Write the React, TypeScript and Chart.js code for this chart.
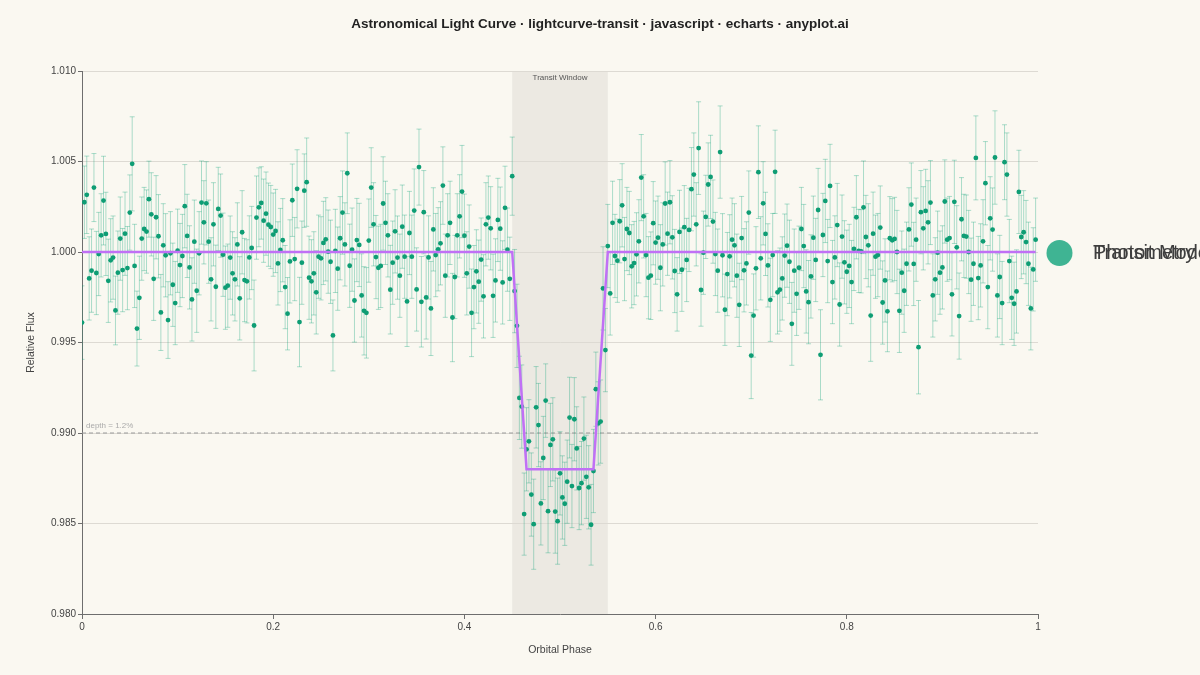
import React, { useEffect, useRef } from "react";
import { Chart, registerables, Plugin } from "chart.js";

Chart.register(...registerables);

const FONT = "'Liberation Sans', Arial, Helvetica, sans-serif";
const BG = "#FAF8F1";
const SHADE = "#ECE9E2";
const GRID = "#DDDAD3";
const AXIS = "#6E6E6E";
const TEXT = "#444444";
const GREEN = "#0E9D74";
const GREEN_ERR = "rgba(0,158,115,0.32)";
const PURPLE = "#C070F5";

const TITLE = "Astronomical Light Curve · lightcurve-transit · javascript · echarts · anyplot.ai";
const seriesNames = ["Photometry", "Transit Model"];
const xTitle = "Orbital Phase";
const yTitle = "Relative Flux";

// phase grid of the photometry points (0 … 0.9975)
const PHASE_STEP = 0.0025;

// relative flux, one per phase step
const flux: number[] = [
  0.9961, 1.00275, 1.00316, 0.99854, 0.99897, 1.00356, 0.99884, 0.99989, 1.00092, 1.00284,
  1.001, 0.99841, 0.99954, 0.99969, 0.99677, 0.99886, 1.00074, 0.999, 1.00101, 0.99911,
  1.00218, 1.00487, 0.99923, 0.99577, 0.99747, 1.00074, 1.00127, 1.00113, 1.00292, 1.00208,
  0.99852, 1.00192, 1.00087, 0.99666, 1.00037, 0.99982, 0.99624, 0.99993, 0.99819, 0.99718,
  1.00007, 0.99928, 0.99978, 1.00253, 1.00089, 0.99915, 0.99738, 1.00057, 0.99786, 0.99993,
  1.00273, 1.00164, 1.00269, 1.00057, 0.99849, 1.00153, 0.99808, 1.00238, 1.00201, 0.99985,
  0.99803, 0.99814, 0.99969, 0.99882, 0.99849, 1.00042, 0.99744, 1.00109, 0.99845, 0.99838,
  0.9997, 1.00022, 0.99594, 1.0019, 1.00247, 1.00271, 1.00173, 1.00212, 1.00151, 1.00138,
  1.00096, 1.00116, 0.99937, 1.00011, 1.00065, 0.99806, 0.99659, 0.99948, 1.00286, 0.99961,
  1.00349, 0.99613, 0.99941, 1.00339, 1.00386, 0.99858, 0.99838, 0.99882, 0.99777, 0.99974,
  0.99965, 1.0005, 1.0007, 1.00002, 0.99946, 0.99539, 1.00006, 0.99908, 1.00076, 1.00218,
  1.00042, 1.00435, 0.99924, 1.00013, 0.99732, 1.00066, 1.00039, 0.9976, 0.99675, 0.99664,
  1.00063, 1.00356, 1.00153, 0.99972, 0.99913, 0.99923, 1.00268, 1.00161, 1.00092, 0.99792,
  0.99941, 1.00114, 0.99969, 0.99869, 1.0014, 0.99974, 0.99727, 1.00105, 0.99974, 1.00229,
  0.99793, 1.00469, 0.99725, 1.0022, 0.99749, 0.9997, 0.99688, 1.00125, 0.99983, 1.00015,
  1.00048, 1.00367, 0.99869, 1.00092, 1.00161, 0.99638, 0.99862, 1.00092, 1.00197, 1.00334,
  1.0009, 0.99882, 1.0003, 0.99664, 0.99806, 0.99893, 0.99836, 0.99958, 0.99755, 1.00153,
  1.0019, 1.00131, 0.99758, 0.99843, 1.00177, 1.00129, 0.99832, 1.00244, 1.00013, 0.99852,
  1.00419, 0.99784, 0.99592, 0.99194, 0.99146, 0.98552, 0.9891, 0.98954, 0.9866, 0.98496,
  0.99142, 0.99044, 0.98611, 0.98862, 0.99179, 0.98568, 0.98934, 0.98965, 0.98566, 0.98513,
  0.98777, 0.98644, 0.98609, 0.98731, 0.99085, 0.98707, 0.99076, 0.98915, 0.98696, 0.98723,
  0.98969, 0.98758, 0.987, 0.98493, 0.9879, 0.99242, 0.99053, 0.99063, 0.99799, 0.99458,
  1.00033, 0.99771, 1.00161, 0.99978, 0.99952, 1.0017, 1.00258, 0.99961, 1.00127, 1.00105,
  0.99921, 0.99939, 0.99987, 1.00059, 1.00411, 1.00197, 0.99983, 0.99858, 0.99869, 1.00159,
  1.00052, 1.00079, 0.99913, 1.00042, 1.00268, 1.00101, 1.00275, 1.00081, 0.99895, 0.99766,
  1.00111, 0.99902, 1.00137, 0.99956, 1.00122, 1.00347, 1.00428, 1.00153, 1.00574, 0.9979,
  0.99996, 1.00194, 1.00373, 1.00415, 1.00168, 0.99989, 0.99897, 1.00552, 0.99982, 0.99681,
  0.99878, 0.99976, 1.00068, 1.00037, 0.99869, 0.99708, 1.00077, 0.99899, 0.99937, 1.00218,
  0.99428, 0.99649, 0.9991, 1.00441, 0.99965, 1.00269, 1.001, 0.99926, 0.99736, 0.99983,
  1.00443, 0.99777, 0.99792, 0.99854, 0.9998, 1.00035, 0.99946, 0.99603, 0.99897, 0.99769,
  0.99913, 1.00127, 1.00033, 0.99782, 0.99723, 0.99865, 1.00079, 0.99956, 1.00232, 0.99432,
  1.00094, 1.00282, 0.9995, 1.00365, 0.99834, 0.9997, 1.00149, 0.9971, 1.00085, 0.99943,
  0.99891, 0.99923, 0.99834, 1.00017, 1.00192, 1.00006, 1.00004, 1.00247, 1.00083, 1.00037,
  0.99649, 1.00101, 0.99974, 0.99983, 1.00135, 0.99721, 0.99843, 0.99672, 1.00076, 1.00065,
  1.00072, 1.0, 0.99675, 0.99886, 0.99786, 0.99935, 1.00125, 1.00262, 0.99934, 1.00068,
  0.99474, 1.0022, 1.00131, 1.00227, 1.00164, 1.00273, 0.9976, 0.99849, 0.99996, 0.99886,
  0.99915, 1.00279, 1.00068, 1.00077, 0.99766, 1.00277, 1.00026, 0.99646, 1.00181, 1.00089,
  1.00085, 1.0, 0.99847, 0.99935, 1.0052, 0.99856, 0.99926, 1.00059, 1.0038, 0.99806,
  1.00186, 1.00124, 1.00522, 0.9976, 0.99862, 0.99718, 1.00496, 1.00428, 0.9995, 0.99747,
  0.99714, 0.99782, 1.00332, 1.00083, 1.00109, 1.00055, 0.99935, 0.99688, 0.99904, 1.00068,
];

// error bar half-lengths: typical value, plus the ones read individually [index, sigma]
const ERR_DEFAULT = 0.0023;
const errRead: [number, number][] = [
  [0, 0.00203], [1, 0.002], [2, 0.00214], [5, 0.00188], [9, 0.00245], [14, 0.0019],
  [20, 0.00208], [21, 0.0026], [23, 0.00207], [28, 0.0021], [33, 0.0021], [36, 0.00212],
  [39, 0.0023], [72, 0.00251], [74, 0.00218], [75, 0.002], [86, 0.002], [88, 0.002],
  [90, 0.00216], [91, 0.00247], [93, 0.00203], [94, 0.00244], [105, 0.00196], [111, 0.00223],
  [118, 0.00244], [119, 0.0025], [121, 0.0022], [126, 0.00258], [129, 0.00245], [136, 0.00249],
  [141, 0.0021], [142, 0.0025], [146, 0.0026], [151, 0.00214], [155, 0.00244], [159, 0.00255],
  [163, 0.00242], [180, 0.00216], [185, 0.00227], [189, 0.00249], [190, 0.00225], [194, 0.00203],
  [199, 0.00238], [204, 0.00223], [213, 0.00223], [215, 0.00205], [234, 0.00238], [237, 0.00227],
  [238, 0.00242], [242, 0.00238], [249, 0.00203], [258, 0.00256], [259, 0.002], [267, 0.00255],
  [269, 0.00197], [280, 0.00238], [283, 0.00256], [290, 0.0023], [297, 0.00229], [309, 0.00249],
  [317, 0.0023], [327, 0.00256], [330, 0.00253], [337, 0.00223], [350, 0.00258], [355, 0.00232],
  [367, 0.00238], [374, 0.00232], [382, 0.00258], [386, 0.00207], [397, 0.00229],
];

// trapezoid transit model
const modelPhase = [0, 0.45, 0.465, 0.535, 0.55, 0.9975];
const modelFlux = [1.0, 1.0, 0.988, 0.988, 1.0, 1.0];

const transitWindow = [0.45, 0.55];
const transitLabel = "Transit Window";
const depthLevel = 0.99;
const depthLabel = "depth = 1.2%";

const Y_MIN = 0.98;
const Y_MAX = 1.01;
const Y_STEP = 0.005;
const X_MIN = 0;
const X_MAX = 1;
const X_STEP = 0.2;

const decor: Plugin<"line"> = {
  id: "decor",
  beforeDraw(chart) {
    const { ctx, chartArea: a, scales } = chart;
    const x = scales.x;
    ctx.save();
    ctx.fillStyle = BG;
    ctx.fillRect(0, 0, chart.width, chart.height);
    const x0 = x.getPixelForValue(transitWindow[0]);
    const x1 = x.getPixelForValue(transitWindow[1]);
    ctx.fillStyle = SHADE;
    ctx.fillRect(x0, a.top, x1 - x0, a.bottom - a.top);
    ctx.restore();
  },
  beforeDatasetsDraw(chart) {
    const { ctx, chartArea: a, scales } = chart;
    const yy = scales.y.getPixelForValue(depthLevel);
    ctx.save();
    ctx.strokeStyle = "#9A9A9A";
    ctx.lineWidth = 1;
    ctx.setLineDash([4, 3]);
    ctx.beginPath();
    ctx.moveTo(a.left, yy);
    ctx.lineTo(a.right, yy);
    ctx.stroke();
    ctx.setLineDash([]);
    ctx.fillStyle = "#AAAAAA";
    ctx.font = `8px ${FONT}`;
    ctx.textAlign = "left";
    ctx.textBaseline = "alphabetic";
    ctx.fillText(depthLabel, a.left + 4, yy - 5);
    ctx.restore();
  },
  afterDatasetsDraw(chart) {
    const { ctx, chartArea: a, scales } = chart;
    const xc = (scales.x.getPixelForValue(transitWindow[0]) + scales.x.getPixelForValue(transitWindow[1])) / 2;
    ctx.save();
    ctx.fillStyle = "#555555";
    ctx.font = `8px ${FONT}`;
    ctx.textAlign = "center";
    ctx.textBaseline = "middle";
    ctx.fillText(transitLabel, xc, a.top + 7);
    ctx.restore();
  },
  afterDraw(chart) {
    const { ctx, chartArea: a } = chart;
    ctx.save();
    // title
    ctx.fillStyle = "#222222";
    ctx.font = `bold 13.5px ${FONT}`;
    ctx.textAlign = "center";
    ctx.textBaseline = "middle";
    ctx.fillText(TITLE, chart.width / 2, 24);
    // axis titles
    ctx.fillStyle = TEXT;
    ctx.font = `10.5px ${FONT}`;
    ctx.fillText(xTitle, (a.left + a.right) / 2, 650);
    ctx.save();
    ctx.translate(31, (a.top + a.bottom) / 2);
    ctx.rotate(-Math.PI / 2);
    ctx.fillText(yTitle, 0, 0);
    ctx.restore();
    // legend (both entries rendered on the same spot)
    ctx.fillStyle = "rgba(0,158,115,0.75)";
    ctx.beginPath();
    ctx.arc(1059.5, 253, 13, 0, Math.PI * 2);
    ctx.fill();
    ctx.fillStyle = "#3E3E3E";
    ctx.font = `20px ${FONT}`;
    ctx.textAlign = "left";
    ctx.textBaseline = "middle";
    seriesNames.forEach((n) => ctx.fillText(n, 1093, 253));
    ctx.restore();
  },
};

export default function App() {
  const canvasRef = useRef<HTMLCanvasElement>(null);

  useEffect(() => {
    if (!canvasRef.current) return;
    document.body.style.margin = "0";
    const ctx = canvasRef.current.getContext("2d")!;

    const errMap = new Map<number, number>(errRead);
    const phase = flux.map((_, i) => Number((i * PHASE_STEP).toFixed(4)));
    const err = flux.map((_, i) => errMap.get(i) ?? ERR_DEFAULT);

    const points = flux.map((f, i) => ({ x: phase[i], y: f }));
    const stems: { x: number; y: number | null }[] = [];
    const caps: { x: number; y: number }[] = [];
    flux.forEach((f, i) => {
      stems.push({ x: phase[i], y: f - err[i] }, { x: phase[i], y: f + err[i] }, { x: phase[i], y: null });
      caps.push({ x: phase[i], y: f - err[i] }, { x: phase[i], y: f + err[i] });
    });
    const model = modelPhase.map((p, i) => ({ x: p, y: modelFlux[i] }));

    const tickFont = { family: FONT, size: 10 };

    const chart = new Chart(ctx, {
      type: "line",
      data: {
        datasets: [
          {
            type: "line",
            label: seriesNames[1],
            data: model,
            borderColor: PURPLE,
            borderWidth: 2.5,
            pointRadius: 0,
            tension: 0,
            order: 0,
          },
          {
            type: "scatter",
            label: seriesNames[0],
            data: points,
            backgroundColor: GREEN,
            borderWidth: 0,
            pointRadius: 2.4,
            order: 1,
          },
          {
            type: "scatter",
            label: "caps",
            data: caps,
            pointStyle: "line",
            pointRadius: 2.5,
            borderColor: GREEN_ERR,
            borderWidth: 1,
            order: 2,
          },
          {
            type: "line",
            label: "stems",
            data: stems as any,
            borderColor: GREEN_ERR,
            borderWidth: 1,
            pointRadius: 0,
            spanGaps: false,
            tension: 0,
            order: 3,
          },
        ],
      },
      options: {
        animation: false,
        responsive: true,
        maintainAspectRatio: false,
        events: [],
        layout: { padding: { left: 0, right: 162, top: 71, bottom: 0 } },
        plugins: {
          legend: { display: false },
          title: { display: false },
          tooltip: { enabled: false },
        },
        scales: {
          x: {
            type: "linear",
            min: X_MIN,
            max: X_MAX,
            afterFit: (s) => {
              s.height = 61;
            },
            border: { color: AXIS, width: 1 },
            grid: { drawOnChartArea: false, drawTicks: true, tickLength: 5, tickColor: AXIS },
            ticks: {
              stepSize: X_STEP,
              color: TEXT,
              font: tickFont,
              padding: 2,
              maxRotation: 0,
              callback: (v) => String(Number(Number(v).toFixed(1))),
            },
          },
          y: {
            type: "linear",
            min: Y_MIN,
            max: Y_MAX,
            afterFit: (s) => {
              s.width = 82;
            },
            border: { color: AXIS, width: 1 },
            grid: { color: GRID, tickColor: AXIS, tickLength: 4, drawTicks: true },
            ticks: {
              stepSize: Y_STEP,
              color: TEXT,
              font: tickFont,
              padding: 2,
              callback: (v) => Number(v).toFixed(3),
            },
          },
        },
      },
      plugins: [decor],
    });

    return () => {
      chart.destroy();
    };
  }, []);

  return (
    <div style={{ position: "absolute", left: 0, top: 0, width: 1200, height: 675, background: BG }}>
      <canvas ref={canvasRef} />
    </div>
  );
}
